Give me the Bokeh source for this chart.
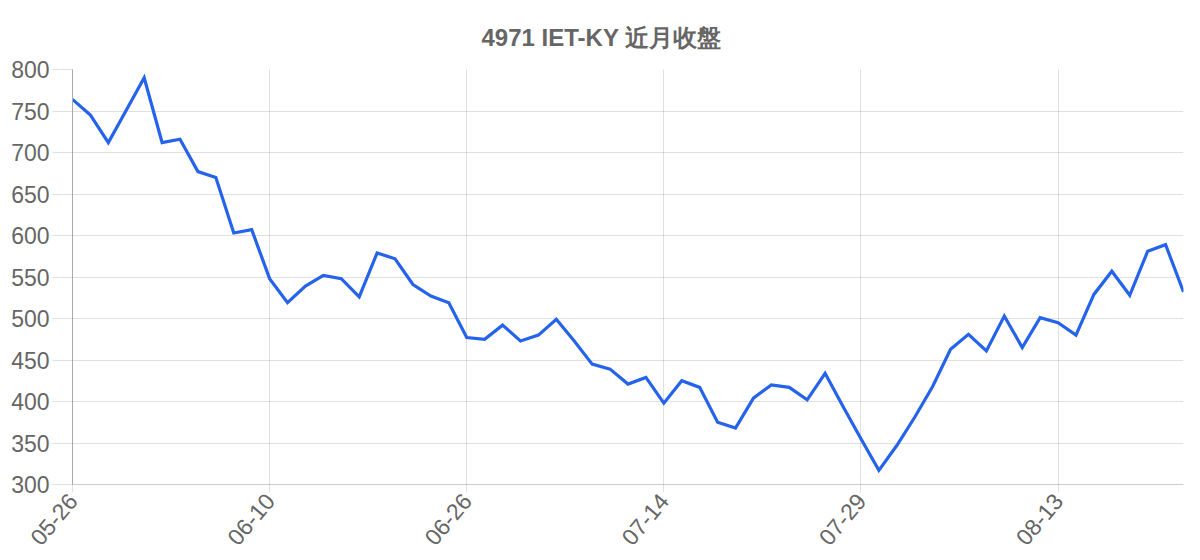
import math
from bokeh.plotting import figure
from bokeh.models import Range1d, FixedTicker, ColumnDataSource
from bokeh.embed import file_html
from bokeh.resources import INLINE

title_text = "4971 IET-KY 近月收盤"

# closing prices (one per trading day)
close = [764, 745, 712, 751, 790, 712, 716, 677, 670, 603,
         607, 548, 519, 539, 552, 548, 526, 579, 572, 541,
         527, 519, 477, 475, 492, 473, 480, 499, 473, 445,
         439, 421, 429, 398, 425, 417, 375, 368, 404, 420,
         417, 402, 434, 394, 355, 317, 347, 381, 418, 463,
         481, 461, 503, 465, 501, 495, 480, 529, 557, 528,
         581, 589, 532]
day_index = list(range(len(close)))

tick_positions = [0, 11, 22, 33, 44, 55]
tick_labels = ["05-26", "06-10", "06-26", "07-14", "07-29", "08-13"]

y_ticks = [300, 350, 400, 450, 500, 550, 600, 650, 700, 750, 800]

grid_col = "rgba(0,0,0,0.12)"
text_col = "#666666"
font = "Liberation Sans"

p = figure(frame_width=1111, frame_height=415,
           min_border_left=72, min_border_right=10,
           min_border_top=69, min_border_bottom=70,
           x_range=Range1d(0, len(close) - 1), y_range=Range1d(300, 800),
           output_backend="svg", toolbar_location=None,
           title=title_text)

src = ColumnDataSource(dict(x=day_index, y=close))
p.line("x", "y", source=src, line_color="#2563EB", line_width=3.2, line_join="miter")

p.title.align = "left"
p.title.offset = 409
p.title.text_font = font
p.title.text_font_size = "24px"
p.title.text_font_style = "bold"
p.title.text_color = text_col
p.title.standoff = 38

p.outline_line_color = None
p.background_fill_color = "white"
p.border_fill_color = "white"

p.xgrid.ticker = FixedTicker(ticks=tick_positions)
p.ygrid.ticker = FixedTicker(ticks=y_ticks)
p.xgrid.grid_line_color = grid_col
p.ygrid.grid_line_color = grid_col
p.xgrid.grid_line_width = 1
p.ygrid.grid_line_width = 1

xa = p.xaxis[0]
xa.ticker = FixedTicker(ticks=tick_positions)
xa.major_label_overrides = {pos: lab for pos, lab in zip(tick_positions, tick_labels)}
xa.major_label_orientation = math.radians(50)
xa.major_label_text_font = font
xa.major_label_text_font_size = "23px"
xa.major_label_text_color = text_col
xa.major_tick_line_color = grid_col
xa.major_tick_out = 8
xa.major_tick_in = 0
xa.minor_tick_line_color = None
xa.axis_line_color = "#cccccc"
xa.major_label_standoff = 4

ya = p.yaxis[0]
ya.ticker = FixedTicker(ticks=y_ticks)
ya.major_label_text_font = font
ya.major_label_text_font_size = "23px"
ya.major_label_text_color = text_col
ya.major_tick_line_color = grid_col
ya.major_tick_out = 20
ya.major_tick_in = 0
ya.minor_tick_line_color = None
ya.axis_line_color = "#aaaaaa"
ya.major_label_standoff = 3

open("out.html", "w").write(file_html(p, INLINE))
